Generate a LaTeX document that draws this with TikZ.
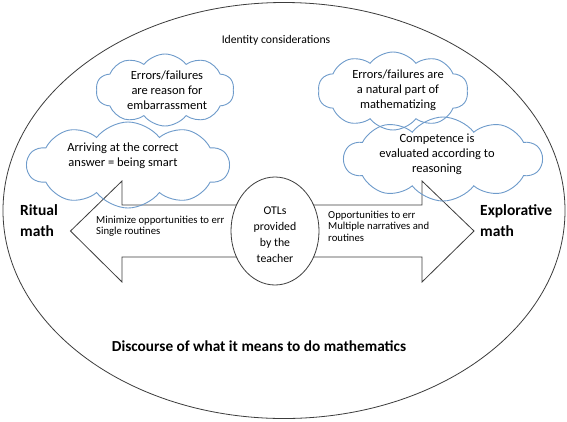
\documentclass[tikz,border=0pt]{standalone}
\usepackage{fontspec}
\setmainfont{Carlito}
\usetikzlibrary{shapes.symbols,shapes.geometric}
\definecolor{cloudblue}{HTML}{6E9BCB}
\definecolor{linegray}{HTML}{3C3C3C}
\tikzset{
  cloudbox/.style={cloud, draw=cloudblue, line width=0.9pt, cloud puffs=10, cloud puff arc=105, aspect=2, inner sep=0pt},
  cloudtext/.style={align=center, font=\fontsize{12.5}{15}\selectfont, inner sep=0pt},
  smalltext/.style={align=left, font=\fontsize{10.7}{11.8}\selectfont, inner sep=0pt, anchor=north west},
  bigtext/.style={align=left, font=\fontsize{15.5}{21}\selectfont\bfseries, inner sep=0pt},
}
\begin{document}
\begin{tikzpicture}[x=1pt,y=-1pt]
\useasboundingbox (0,0) rectangle (567,421);
\fill[white] (0,0) rectangle (567,421);
% outer ellipse
\node[ellipse, draw=linegray, line width=0.8pt, minimum width=562pt, minimum height=416pt, inner sep=0pt] (outer) at (284,210.5) {};
\node[font=\fontsize{11.7}{13}\selectfont, inner sep=0pt] (identity) at (276,40) {Identity considerations};
% double arrow
\draw[draw=linegray, line width=0.8pt, fill=white] (70.5,231) -- (122,181) -- (122,205) -- (422,205) -- (422,181) -- (474,231) -- (422,282) -- (422,257) -- (122,257) -- (122,282) -- cycle;
% clouds
\node[cloudbox, minimum width=138pt, minimum height=72pt] (c1) at (165,90) {};
\node[cloudbox, minimum width=202pt, minimum height=86pt] (c2) at (128,165) {};
\node[cloudbox, minimum width=150pt, minimum height=78pt] (c3) at (393,91) {};
\node[cloudbox, minimum width=198pt, minimum height=84pt] (c4) at (443,159) {};
\node[cloudtext] (t1) at (167,90) {Errors/failures\\are reason for\\embarrassment};
\node[cloudtext] (t2) at (123,156) {Arriving at the correct\\answer = being smart};
\node[cloudtext] (t3) at (398,90) {Errors/failures are\\a natural part of\\mathematizing};
\node[cloudtext] (t4) at (437,154) {Competence is\\evaluated according to\\reasoning};
% OTL ellipse
\node[ellipse, draw=linegray, line width=0.8pt, fill=white, minimum width=88pt, minimum height=108pt, inner sep=0pt] (otl) at (275,231) {};
\node[align=center, font=\fontsize{11.8}{16}\selectfont, inner sep=0pt] (otltext) at (275,235) {OTLs\\provided\\by the\\teacher};
% arrow texts
\node[smalltext] (lefttext) at (96,215.5) {Minimize opportunities to err\\Single routines};
\node[smalltext] (righttext) at (328,210.5) {Opportunities to err\\Multiple narratives and\\routines};
% side labels
\node[bigtext, anchor=west] (ritual) at (20,221) {Ritual\\math};
\node[bigtext, anchor=west] (explor) at (480,221) {Explorative\\math};
\node[font=\fontsize{15.3}{17}\selectfont\bfseries, inner sep=0pt] (discourse) at (259,346) {Discourse of what it means to do mathematics};
\end{tikzpicture}
\end{document}
